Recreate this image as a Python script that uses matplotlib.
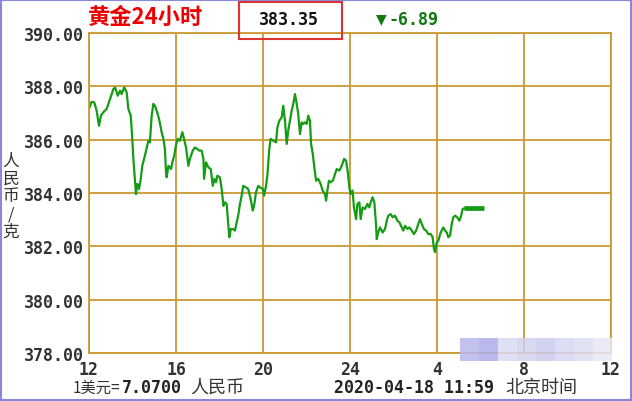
import numpy as np
import matplotlib.pyplot as plt
from matplotlib.patches import Rectangle

# hours since 12:00 and price (CNY/g)
hours = [0.00, 0.12, 0.24, 0.35, 0.46, 0.55, 0.66, 0.81, 0.97, 1.12, 1.20, 1.32, 1.43, 1.50, 1.62, 1.73,
         1.81, 1.92, 1.99, 2.04, 2.12, 2.16, 2.22, 2.30, 2.38, 2.45, 2.57, 2.73, 2.80, 2.88, 2.96, 3.03,
         3.11, 3.22, 3.34, 3.42, 3.49, 3.54, 3.57, 3.65, 3.77, 3.85, 3.92, 3.99, 4.08, 4.18, 4.29, 4.37,
         4.46, 4.57, 4.64, 4.77, 4.87, 4.98, 5.07, 5.18, 5.26, 5.29, 5.38, 5.49, 5.60, 5.69, 5.76, 5.84,
         5.90, 6.02, 6.10, 6.18, 6.25, 6.33, 6.41, 6.45, 6.52, 6.61, 6.71, 6.79, 6.86, 6.94, 7.02, 7.09,
         7.22, 7.32, 7.43, 7.53, 7.59, 7.68, 7.78, 7.86, 7.99, 8.05, 8.14, 8.20, 8.29, 8.35, 8.47, 8.60,
         8.66, 8.75, 8.86, 8.93, 9.01, 9.09, 9.16, 9.24, 9.32, 9.39, 9.47, 9.55, 9.62, 9.70, 9.78, 9.85,
         9.93, 10.01, 10.08, 10.16, 10.21, 10.29, 10.36, 10.44, 10.54, 10.65, 10.74, 10.85, 10.90, 10.96,
         11.03, 11.11, 11.21, 11.31, 11.39, 11.51, 11.62, 11.73, 11.82, 11.89, 11.97, 12.03, 12.12, 12.18,
         12.28, 12.34, 12.43, 12.49, 12.58, 12.69, 12.80, 12.89, 12.95, 13.04, 13.12, 13.20, 13.23, 13.30,
         13.38, 13.50, 13.61, 13.69, 13.76, 13.87, 13.96, 14.07, 14.18, 14.27, 14.38, 14.45, 14.53, 14.64,
         14.73, 14.84, 14.94, 15.04, 15.14, 15.22, 15.30, 15.40, 15.50, 15.60, 15.71, 15.80, 15.86, 15.91,
         15.99, 16.06, 16.17, 16.29, 16.37, 16.45, 16.52, 16.60, 16.68, 16.75, 16.83, 16.93, 17.03, 17.09,
         17.18, 17.24]
price = [387.15, 387.42, 387.40, 387.09, 386.52, 386.90, 387.03, 387.15, 387.53, 387.90, 387.96, 387.65,
         387.84, 387.71, 387.96, 387.78, 387.15, 386.90, 386.03, 385.28, 384.40, 383.96, 384.34, 384.15,
         384.53, 385.02, 385.40, 385.96, 385.90, 386.90, 387.34, 387.27, 387.09, 386.78, 386.28, 386.03,
         385.65, 384.78, 384.59, 385.02, 384.90, 385.21, 385.40, 385.77, 386.03, 385.96, 386.28, 386.03,
         385.71, 385.02, 385.28, 385.59, 385.71, 385.65, 385.59, 385.59, 385.28, 384.53, 385.15, 384.96,
         384.90, 384.27, 384.53, 384.40, 384.65, 384.59, 384.15, 383.52, 383.65, 383.59, 382.77, 382.34,
         382.65, 382.65, 382.59, 382.90, 383.15, 383.59, 383.90, 384.27, 384.21, 384.15, 383.78, 383.34,
         383.52, 384.03, 384.27, 384.21, 384.15, 383.90, 384.27, 384.65, 385.65, 386.03, 385.96, 385.90,
         386.46, 386.71, 386.84, 387.27, 386.71, 385.84, 386.34, 386.71, 387.09, 387.34, 387.71, 387.34,
         386.96, 386.21, 386.65, 386.59, 386.65, 386.59, 386.90, 386.71, 385.84, 385.46, 384.96, 384.46,
         384.53, 384.34, 384.09, 383.96, 383.71, 384.09, 384.46, 384.40, 384.46, 384.71, 384.90, 384.84,
         385.02, 385.28, 385.21, 384.84, 384.21, 383.96, 384.09, 383.46, 383.02, 383.59, 383.65, 383.02,
         383.46, 383.40, 383.59, 383.46, 383.65, 383.84, 383.65, 382.77, 382.27, 382.52, 382.71, 382.52,
         382.65, 382.96, 383.15, 383.21, 383.09, 383.15, 382.96, 382.90, 382.71, 382.59, 382.77, 382.65,
         382.71, 382.59, 382.46, 382.59, 382.84, 383.02, 382.84, 382.65, 382.59, 382.46, 382.46, 382.34,
         381.90, 381.78, 382.15, 382.21, 382.52, 382.71, 382.59, 382.52, 382.34, 382.40, 382.84, 383.09,
         383.15, 383.09, 382.96, 383.09, 383.40, 383.42]
# flat part after the market closed
flat_hours = [17.24, 18.16]
flat_price = [383.42, 383.42]

x_ticks = [0, 4, 8, 12, 16, 20, 24]
x_labels = ['12', '16', '20', '24', '4', '8', '12']
y_ticks = [378, 380, 382, 384, 386, 388, 390]

W, H = 632, 402
grid_col = '#cc9933'
line_col = '#159c15'
mono = 'DejaVu Sans Mono'
cjk = ['Noto Sans CJK SC', 'DejaVu Sans']

fig = plt.figure(figsize=(W / 100, H / 100), dpi=100)
ax = fig.add_axes([89 / W, 1 - 354 / H, (611 - 89) / W, (354 - 34) / H])

ax.plot(hours, price, color=line_col, lw=1.6)
ax.plot(flat_hours, flat_price, color=line_col, lw=3.4, solid_capstyle='butt')

ax.set_xlim(0, 24)
ax.set_ylim(378, 390)
ax.set_xticks(x_ticks)
ax.set_xticklabels(x_labels)
ax.set_yticks(y_ticks)
ax.set_yticklabels(['%.2f' % v for v in y_ticks])
ax.grid(True, color=grid_col, lw=1.3)
for s in ax.spines.values():
    s.set_color(grid_col)
    s.set_linewidth(1.3)
ax.tick_params(length=0, colors='#333333', labelsize=12)
ax.tick_params(axis='y', pad=4)
ax.tick_params(axis='x', pad=5)
for lab in ax.get_xticklabels() + ax.get_yticklabels():
    lab.set_fontfamily(mono)
    lab.set_fontweight('bold')

def fx(px):
    return px / W

def fy(py):
    return 1 - py / H

# header
fig.text(fx(146), fy(17), '黄金24小时', color='#ee0000', fontsize=16, family=cjk,
         fontweight='bold', ha='center', va='center')
fig.add_artist(Rectangle((fx(239), fy(40)), (342 - 239) / W, (40 - 3) / H,
                         transform=fig.transFigure, fill=False, edgecolor='#dd3333', lw=1.5))
fig.text(fx(289), fy(20), '383.35', color='#111111', fontsize=12, family=mono,
         fontweight='bold', ha='center', va='center')
fig.text(fx(381), fy(19), '▼', color='#117711', fontsize=10, family='DejaVu Sans',
         ha='center', va='center')
fig.text(fx(389), fy(20), '-6.89', color='#117711', fontsize=12, family=mono,
         fontweight='bold', ha='left', va='center')

# y label, stacked characters
fig.text(fx(11), fy(197), '\n'.join('人民币/克'), color='#333333', fontsize=12,
         family=cjk, ha='center', va='center', linespacing=1.05)

# footer
fig.text(fx(120), fy(388), '1美元=', color='#333333', fontsize=11, family=cjk,
         ha='right', va='center')
fig.text(fx(122), fy(388), '7.0700', color='#222222', fontsize=12, family=mono,
         fontweight='bold', ha='left', va='center')
fig.text(fx(190), fy(388), '人民币', color='#333333', fontsize=13, family=cjk,
         ha='left', va='center')
fig.text(fx(334), fy(388), '2020-04-18 11:59', color='#222222', fontsize=12, family=mono,
         fontweight='bold', ha='left', va='center')
fig.text(fx(505), fy(388), '北京时间', color='#333333', fontsize=13, family=cjk,
         ha='left', va='center')

# faint watermark band at the lower right
band = np.array([[[0.72, 0.72, 0.93], [0.68, 0.68, 0.92], [0.86, 0.86, 0.95], [0.82, 0.82, 0.94],
                  [0.80, 0.80, 0.94], [0.84, 0.84, 0.95], [0.87, 0.87, 0.96], [0.91, 0.91, 0.97]]])
wax = fig.add_axes([fx(460), fy(362), (612 - 460) / W, (362 - 339) / H])
wax.imshow(band, aspect='auto', alpha=0.85)
wax.axis('off')

# outer border
fig.add_artist(Rectangle((0.001, 0.002), 0.997, 0.996, transform=fig.transFigure,
                         fill=False, edgecolor='#8888dd', lw=1.5))

fig.savefig('out.png', dpi=100)
